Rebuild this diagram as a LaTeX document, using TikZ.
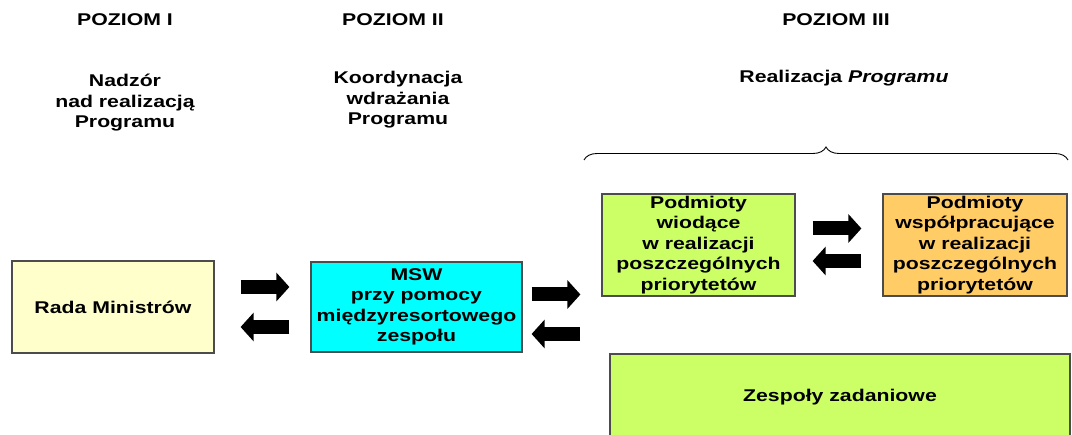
\documentclass[tikz,border=0pt]{standalone}
\usepackage{fontspec}
\setmainfont{Liberation Sans}[FakeStretch=1.25]
\usetikzlibrary{arrows.meta,decorations.pathreplacing}
\definecolor{jasnozolty}{HTML}{FFFFCC}
\definecolor{turkus}{HTML}{00FFFF}
\definecolor{zielony}{HTML}{CCFF66}
\definecolor{pomarancz}{HTML}{FFCC66}
\tikzset{
  ramka/.style={draw=black!70, line width=1.2pt, inner sep=2pt},
  strzalka/.style={line width=14pt, -{Triangle[length=13pt,width=28pt]}}
}

\begin{document}
\begin{tikzpicture}[x=1pt, y=-1pt, font=\fontsize{17}{20.5}\selectfont\bfseries,
  every node/.style={align=center}]
\useasboundingbox (0,0) rectangle (1072,435);
% poziomy
\node (poz1) at (125,19.5) {POZIOM I};
\node (poz2) at (393,19.5) {POZIOM II};
\node (poz3) at (836,19.5) {POZIOM III};
\node (opis1) at (125,103) {Nadzór\\nad realizacją\\Programu};
\node (opis2) at (398,100) {Koordynacja\\wdrażania\\Programu};
\node (opis3) at (844,78) {Realizacja \textit{Programu}};
\draw[line width=0.9pt, decorate, decoration={brace, amplitude=13pt}] (584,160) -- (1068,160);
% bloki
\node[ramka, fill=jasnozolty, minimum width=202pt, minimum height=92pt] (rada) at (113,307) {Rada Ministrów};
\node[ramka, fill=turkus, minimum width=211pt, minimum height=90pt] (msw) at (416.5,307) {MSW\\przy pomocy\\międzyresortowego\\zespołu};
\node[ramka, fill=zielony, minimum width=193pt, minimum height=98pt] (wiodace) at (698.5,245) {Podmioty\\wiodące\\w realizacji\\poszczególnych\\priorytetów};
\node[ramka, fill=pomarancz, minimum width=184pt, minimum height=98pt] (wspol) at (975,245) {Podmioty\\współpracujące\\w realizacji\\poszczególnych\\priorytetów};
\node[ramka, fill=zielony, minimum width=460pt, minimum height=86pt] (zespoly) at (840,397) {Zespoły zadaniowe};
% strzalki
\coordinate (m1) at ([yshift=12.5pt]msw.east);
\coordinate (m2) at ([yshift=-27pt]msw.east);
\draw[strzalka, shorten <=26pt, shorten >=21pt] ([yshift=20pt]rada.east) -- ([yshift=20pt]msw.west);
\draw[strzalka, shorten <=21pt, shorten >=26pt] ([yshift=-20pt]msw.west) -- ([yshift=-20pt]rada.east);
\draw[strzalka, shorten <=9pt, shorten >=21pt] (m1) -- (m1 -| wiodace.west);
\draw[strzalka, shorten <=21pt, shorten >=9pt] (m2 -| wiodace.west) -- (m2);
\draw[strzalka, shorten <=17pt, shorten >=21pt] ([yshift=16.5pt]wiodace.east) -- ([yshift=16.5pt]wspol.west);
\draw[strzalka, shorten <=21pt, shorten >=17pt] ([yshift=-16pt]wspol.west) -- ([yshift=-16pt]wiodace.east);
\end{tikzpicture}
\end{document}
